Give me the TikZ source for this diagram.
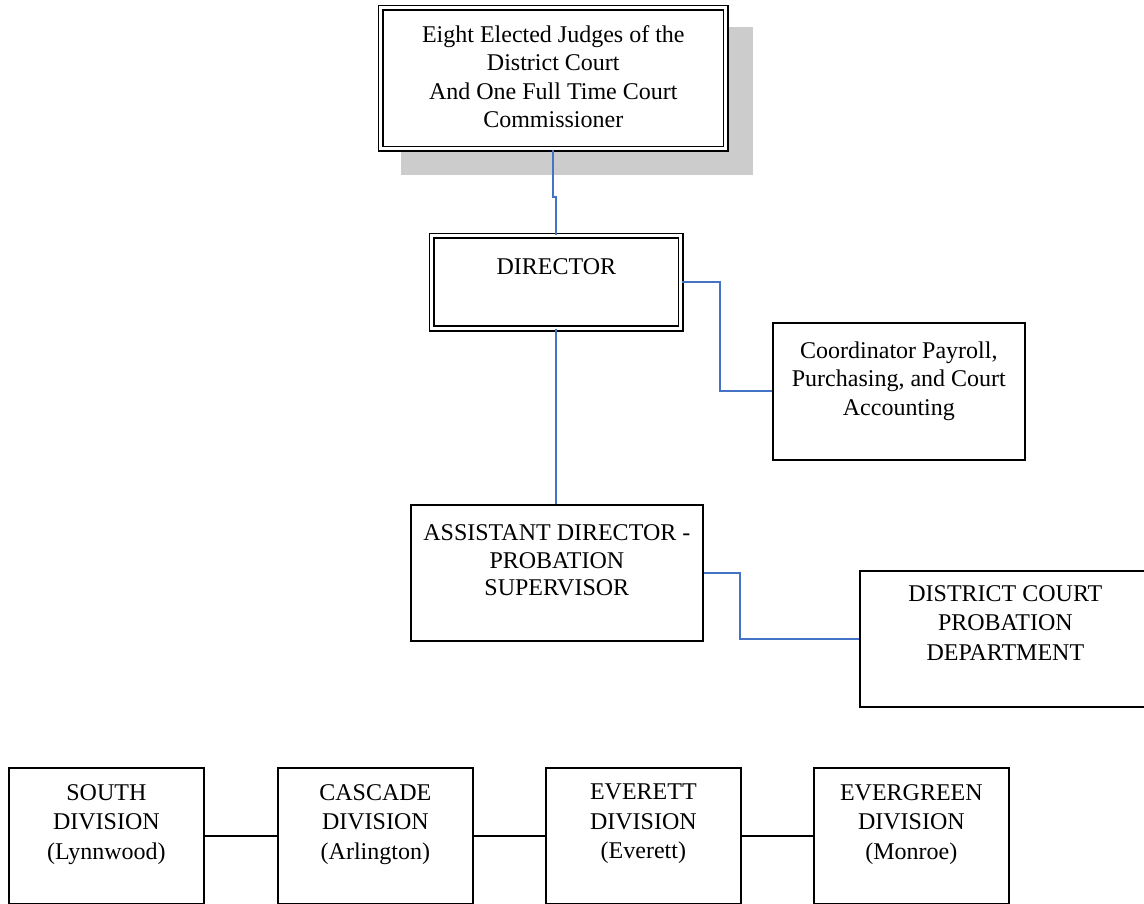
\documentclass[tikz,border=0pt]{standalone}
\usepackage{fontspec}
\setmainfont{Liberation Serif}
\usetikzlibrary{calc}
\definecolor{linkblue}{RGB}{68,114,196}
\definecolor{shadowgrey}{RGB}{204,204,204}
\tikzset{
  box/.style={draw=black, line width=1.7pt, fill=white, inner sep=0pt,
              anchor=north west},
  dbox/.style={box, line width=1.6pt, double=white, double distance=3.2pt},
  boxtext/.style={font=\fontsize{24}{28.3}\selectfont, align=center,
                  inner sep=0pt, anchor=north},
  divtext/.style={boxtext, font=\fontsize{24}{29.5}\selectfont},
  link/.style={draw=linkblue, line width=2pt},
  tie/.style={draw=black, line width=1.7pt}
}
\begin{document}
\begin{tikzpicture}[x=1pt, y=-1pt]
\useasboundingbox (0,0) rectangle (1144,903);
\clip (0,0) rectangle (1144,903);

% grey shadow behind the judges box
\fill[shadowgrey] (401,27) rectangle (753,175);

% boxes
\node[dbox, minimum width=345pt, minimum height=141pt] (judges) at (380,7) {};
\node[dbox, minimum width=249pt, minimum height=92.5pt] (director) at (431,235) {};
\node[box, minimum width=252pt, minimum height=137pt] (coord) at (772,322) {};
\node[box, minimum width=292pt, minimum height=136pt] (assist) at (410,504) {};
\node[box, minimum width=291pt, minimum height=136pt] (district) at (859,570) {};
\node[box, minimum width=195pt, minimum height=136pt] (south) at (8,767) {};
\node[box, minimum width=195pt, minimum height=136pt] (cascade) at (277,767) {};
\node[box, minimum width=195pt, minimum height=136pt] (everett) at (545,767) {};
\node[box, minimum width=195pt, minimum height=136pt] (evergreen) at (813,767) {};

% box texts
\node[boxtext] (judgesT) at ([yshift=-18.5pt]judges.north)
  {Eight Elected Judges of the\\District Court\\And One Full Time Court\\Commissioner};
\node[boxtext] (directorT) at ([yshift=-23pt]director.north) {DIRECTOR};
\node[boxtext, font=\fontsize{24}{28.5}\selectfont] (coordT) at ([yshift=-19.5pt]coord.north)
  {Coordinator Payroll,\\Purchasing, and Court\\Accounting};
\node[boxtext, font=\fontsize{24}{27.5}\selectfont] (assistT) at ([yshift=-20.5pt]assist.north)
  {ASSISTANT DIRECTOR -\\PROBATION\\SUPERVISOR};
\node[boxtext, font=\fontsize{24}{29.5}\selectfont] (districtT) at ([yshift=-15pt]district.north)
  {DISTRICT COURT\\PROBATION\\DEPARTMENT};
\node[divtext] (southT) at ([yshift=-17pt]south.north)
  {SOUTH\\DIVISION\\(Lynnwood)};
\node[divtext] (cascadeT) at ([yshift=-17pt]cascade.north)
  {CASCADE\\DIVISION\\(Arlington)};
\node[divtext] (everettT) at ([yshift=-17pt]everett.north)
  {EVERETT\\DIVISION\\(Everett)};
\node[divtext] (evergreenT) at ([yshift=-17pt]evergreen.north)
  {EVERGREEN\\DIVISION\\(Monroe)};

% blue reporting lines
\draw[link] (judges.south) -- ++(0,47) -| (director.north);
\draw[link] (director.east) -- ++(38,0) |- (coord.west);
\draw[link] (director.south) -- (director.south |- assist.north);
\draw[link] (assist.east) -- ++(36,0) |- (district.west);

% black links between the divisions
\draw[tie] (south.east) -- (cascade.west);
\draw[tie] (cascade.east) -- (everett.west);
\draw[tie] (everett.east) -- (evergreen.west);
\end{tikzpicture}
\end{document}
